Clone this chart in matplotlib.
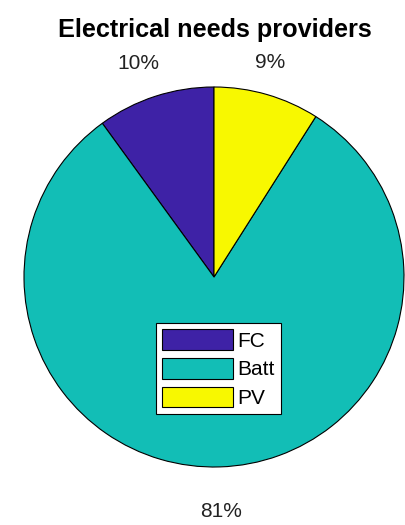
import matplotlib
matplotlib.use("Agg")
import numpy as np
import matplotlib.pyplot as plt

labels = ["FC", "Batt", "PV"]
values = [10, 81, 9]
colors = ["#3E22A6", "#12BEB6", "#F8F800"]
title = "Electrical needs providers"

plt.rcParams['font.family'] = ['Liberation Sans', 'DejaVu Sans']

fig = plt.figure(figsize=(4.05, 5.25), dpi=100)
W, H = 405, 525
cx, cy, r = 214, 277, 190
ax = fig.add_axes([(cx - r) / W, (H - cy - r) / H, 2 * r / W, 2 * r / H])

wedges, texts, autotexts = ax.pie(
    values, colors=colors, startangle=90, counterclock=True,
    autopct=lambda p: f"{p:.0f}%", pctdistance=1.2,
    wedgeprops=dict(edgecolor="black", linewidth=0.8),
    textprops=dict(fontsize=15, color="#222222"),
)
label_dist = [1.193, 1.235, 1.169]
label_nudge = [1.4, 0.0, 1.5]
for w, t, d, n in zip(wedges, autotexts, label_dist, label_nudge):
    ang = np.deg2rad((w.theta1 + w.theta2) / 2 + n)
    t.set_position((d * np.cos(ang), d * np.sin(ang)))
    t.set_ha("center")
    t.set_va("center")
ax.set_xlim(-1, 1)
ax.set_ylim(-1, 1)
ax.set_aspect("equal")

fig.text(cx / W + 0.002, 1 - 30 / H, title, ha="center", va="center",
         fontsize=18.2, fontweight="bold")

leg = ax.legend(wedges, labels, loc="upper left",
                bbox_to_anchor=((156 - (cx - r)) / (2 * r), 1 - (323 - (cy - r)) / (2 * r)),
                fontsize=15, frameon=True, fancybox=False, framealpha=1,
                edgecolor="black", handlelength=3.4, handleheight=1.15,
                labelspacing=0.35, handletextpad=0.2, borderpad=0.3,
                borderaxespad=0)
leg.get_frame().set_linewidth(0.8)

fig.savefig("out.png", dpi=100)
